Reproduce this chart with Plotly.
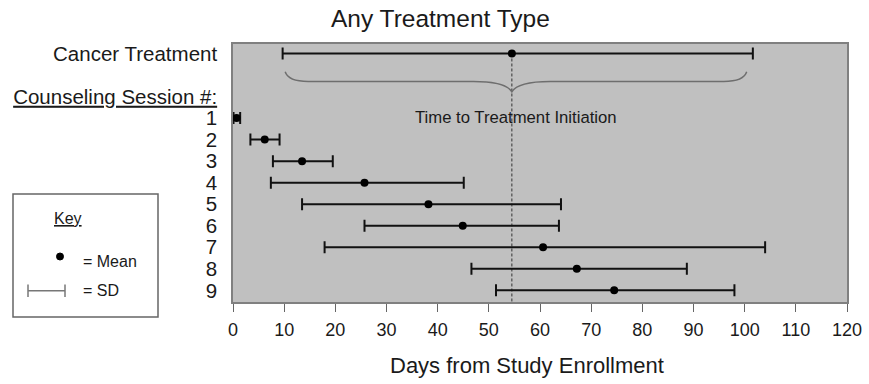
import plotly.graph_objects as go

# ---------------- data ----------------
sessions = ["1", "2", "3", "4", "5", "6", "7", "8", "9"]
session_rows = [1, 2, 3, 4, 5, 6, 7, 8, 9]
session_mean = [0.7, 6.2, 13.5, 25.7, 38.2, 44.9, 60.6, 67.2, 74.5]
session_low = [0.1, 3.4, 7.8, 7.4, 13.5, 25.7, 17.9, 46.6, 51.4]
session_high = [1.4, 9.1, 19.5, 45.1, 64.1, 63.7, 104.0, 88.7, 98.0]

cancer_label = "Cancer Treatment"
cancer_row = -2
cancer_mean = 54.5
cancer_low = 9.7
cancer_high = 101.6

header_label = "<u>Counseling Session #:</u>"
header_row = 0

x_ticks = [0, 10, 20, 30, 40, 50, 60, 70, 80, 90, 100, 110, 120]

title_text = "Any Treatment Type"
x_title = "Days from Study Enrollment"
brace_text = "Time to Treatment Initiation"

FONT = "Liberation Sans, Arial, sans-serif"
TXT = "#1a1a1a"

# ---------------- layout geometry ----------------
W, H = 869, 384
L, R, T, B = 233, 847, 44, 302          # plot area in pixels
def px(xp):
    return (xp - L) / (R - L)
def py(yp):
    return (B - yp) / (B - T)

fig = go.Figure()

all_rows = [cancer_row] + session_rows
all_mean = [cancer_mean] + session_mean
all_plus = [cancer_high - cancer_mean] + [h - m for h, m in zip(session_high, session_mean)]
all_minus = [cancer_mean - cancer_low] + [m - l for m, l in zip(session_mean, session_low)]

fig.add_trace(go.Scatter(
    x=all_mean, y=all_rows, mode="markers",
    marker=dict(color="black", size=8),
    error_x=dict(type="data", symmetric=False, array=all_plus, arrayminus=all_minus,
                 color="#111111", thickness=2, width=6),
    cliponaxis=False, showlegend=False, hoverinfo="x+y",
))

# dashed vertical line at the cancer treatment mean
fig.add_shape(type="line", xref="x", yref="y", x0=cancer_mean, x1=cancer_mean,
              y0=cancer_row, y1=9.54, line=dict(color="#333333", width=1, dash="3px,2px"),
              layer="below")

# curly brace below cancer treatment bar
bl = cancer_low + 0.5
br = cancer_high - 1.2
m = cancer_mean
ye, yf, yt = -1.15, -0.70, -0.22
path = (f"M {bl},{ye} Q {bl+0.6},{yf} {bl+4.5},{yf} L {m-7.5},{yf} "
        f"Q {m-1.2},{yf} {m},{yt} Q {m+1.2},{yf} {m+7.5},{yf} "
        f"L {br-4.5},{yf} Q {br-0.6},{yf} {br},{ye}")
fig.add_shape(type="path", xref="x", yref="y", path=path,
              line=dict(color="#6e6e6e", width=1.5), layer="below")

fig.add_annotation(x=55.3, y=0.97, xref="x", yref="y", text=brace_text, showarrow=False,
                   font=dict(family=FONT, size=16.7, color=TXT), xanchor="center", yanchor="middle")

# title and x-axis title
fig.add_annotation(x=px(440), y=py(18), xref="paper", yref="paper", text=title_text,
                   showarrow=False, font=dict(family=FONT, size=24.5, color=TXT),
                   xanchor="center", yanchor="middle")
fig.add_annotation(x=px(527), y=py(365), xref="paper", yref="paper", text=x_title,
                   showarrow=False, font=dict(family=FONT, size=22, color=TXT),
                   xanchor="center", yanchor="middle")

# key box
fig.add_shape(type="rect", xref="paper", yref="paper", x0=px(13), x1=px(158),
              y0=py(317), y1=py(194), line=dict(color="#666666", width=1.5),
              fillcolor="white")
fig.add_annotation(x=px(67.5), y=py(218), xref="paper", yref="paper", text="<u>Key</u>",
                   showarrow=False, font=dict(family=FONT, size=16, color=TXT),
                   xanchor="center", yanchor="middle")
fig.add_shape(type="circle", xref="paper", yref="paper", x0=px(56.5), x1=px(63.5),
              y0=py(260), y1=py(253), fillcolor="black", line=dict(color="black", width=1))
fig.add_annotation(x=px(81), y=py(261), xref="paper", yref="paper", text="= Mean",
                   showarrow=False, font=dict(family=FONT, size=16, color=TXT),
                   xanchor="left", yanchor="middle")
for seg in [((28, 290.7), (65, 290.7)), ((28, 284.5), (28, 297)), ((65, 284.5), (65, 297))]:
    fig.add_shape(type="line", xref="paper", yref="paper",
                  x0=px(seg[0][0]), y0=py(seg[0][1]), x1=px(seg[1][0]), y1=py(seg[1][1]),
                  line=dict(color="#777777", width=1.5))
fig.add_annotation(x=px(81), y=py(290.5), xref="paper", yref="paper", text="= SD",
                   showarrow=False, font=dict(family=FONT, size=16, color=TXT),
                   xanchor="left", yanchor="middle")

fig.update_layout(
    width=W, height=H,
    margin=dict(l=L, r=W - R, t=T, b=H - B, autoexpand=False),
    paper_bgcolor="white", plot_bgcolor="#c0c0c0",
    font=dict(family=FONT, color=TXT),
    showlegend=False,
)
fig.update_xaxes(
    range=[0, 120], tickvals=x_ticks, ticktext=[str(v) for v in x_ticks],
    ticks="outside", ticklen=8, tickcolor="#666666", tickwidth=1,
    showgrid=False, zeroline=False, automargin=False,
    showline=True, mirror=True, linecolor="#808080", linewidth=1.5,
    tickfont=dict(family=FONT, size=18, color=TXT), ticklabelstandoff=3,
)
fig.update_yaxes(
    range=[9.54, -2.44],
    tickvals=[cancer_row, header_row] + session_rows,
    ticktext=[cancer_label, header_label] + sessions,
    ticks="", showgrid=False, zeroline=False, automargin=False,
    showline=True, mirror=True, linecolor="#808080", linewidth=1.5,
    tickfont=dict(family=FONT, size=20.5, color=TXT), ticklabelstandoff=10,
)

fig.write_html("out.html",
               config={"displayModeBar": False},
               post_script="document.body.style.margin='0';document.body.style.overflow='hidden';")
